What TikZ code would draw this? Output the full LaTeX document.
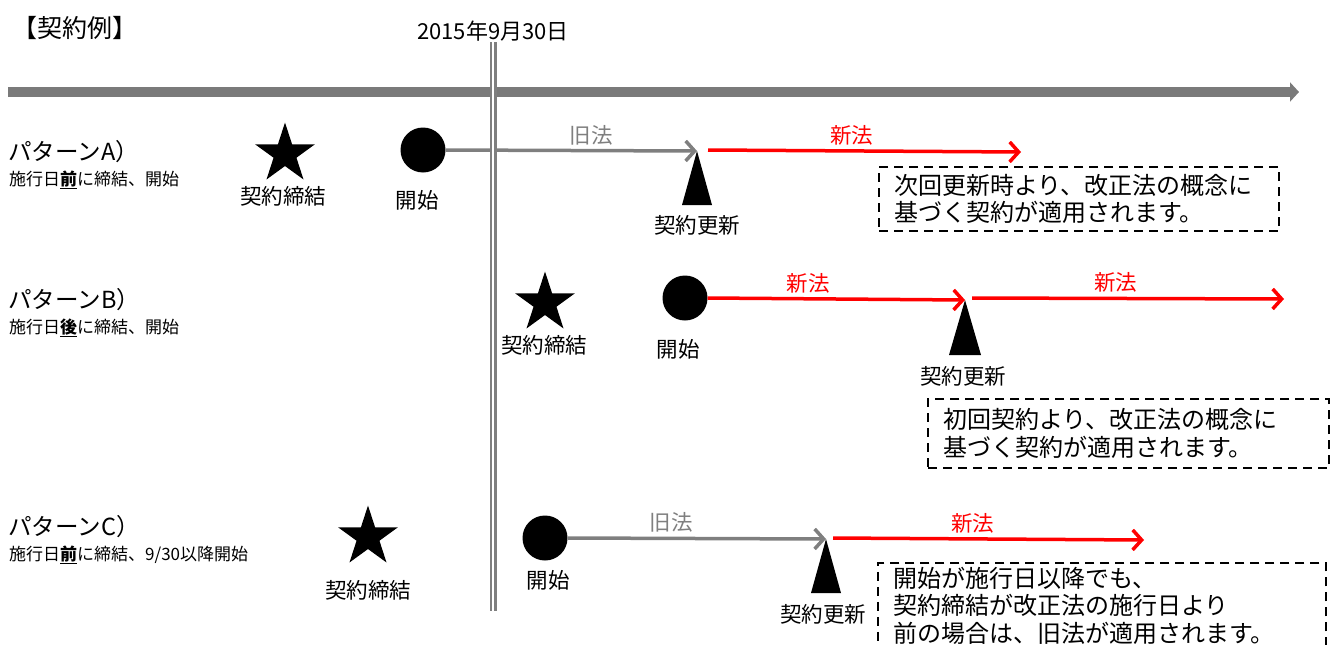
\documentclass[tikz,border=0pt]{standalone}
\usepackage{fontspec}
\setmainfont{Noto Sans CJK JP}
\usetikzlibrary{shapes.geometric,arrows.meta}
\definecolor{axisgray}{HTML}{7A7A7A}
\definecolor{oldgray}{HTML}{7F7F7F}
\definecolor{newred}{HTML}{FF0000}
\begin{document}
\begin{tikzpicture}[x=1pt,y=-1pt,
  ttl/.style={font=\fontsize{23.5}{27}\selectfont, inner sep=0, anchor=west},
  sub/.style={font=\fontsize{17}{20}\selectfont, inner sep=0, anchor=west},
  lbl/.style={font=\fontsize{21.5}{24}\selectfont, inner sep=0},
  lawlbl/.style={font=\fontsize{21.5}{24}\selectfont, inner sep=0},
  star5/.style={star, star points=5, star point ratio=2.618, minimum size=63pt, fill=black, inner sep=0},
  dot/.style={circle, fill=black, minimum size=45pt, inner sep=0},
  oldarr/.style={draw=oldgray, line width=3.5pt, -{Straight Barb[length=9pt, width=20pt, line width=3.5pt]}},
  newarr/.style={draw=newred, line width=3.5pt, -{Straight Barb[length=9pt, width=20pt, line width=3.5pt]}},
  notebox/.style={draw=black, dashed, line width=2.2pt, dash pattern=on 9pt off 6pt,
    font=\fontsize{24}{27.5}\selectfont, align=left, anchor=north west,
    inner xsep=15pt, inner ysep=0pt},
]
\useasboundingbox (0,0) rectangle (1336,645);

% title and date
\node[font=\fontsize{25}{28}\selectfont, inner sep=0, anchor=west] (title) at (12,28) {【契約例】};
\node[font=\fontsize{22}{24}\selectfont, inner sep=0] (date) at (493,31) {2015年9月30日};

% main axis
\coordinate (ax0) at (8,92);
\coordinate (ax1) at (1299,92);
\draw[axisgray, line width=10pt, -{Triangle[length=9pt, width=19pt]}] (ax0) -- (ax1);

% ---------- Pattern A ----------
\node[ttl] (pa) at (8,152) {パターンA）};
\node[sub] (pas) at (9,180) {施行日\underline{\textbf{前}}に締結、開始};
\node[star5] (sa) at (285,154) {};
\node[lbl] (sal) at (283,196) {契約締結};
\node[dot] (ca) at (423,150) {};
\node[lbl] (cal) at (417,200) {開始};
\coordinate (ta) at (697,151);
\fill (ta) -- ++(-15,54) -- ++(30,0) -- cycle;
\node[lbl] (tal) at (697,225) {契約更新};
\draw[oldarr] (ca.east) -- node[above=4pt, text=oldgray, lawlbl, pos=0.58] {旧法} (ta);
\coordinate (ra0) at (708,150);
\coordinate (ra1) at (1021,152);
\draw[newarr] (ra0) -- node[above=4pt, text=newred, lawlbl, pos=0.46] {新法} (ra1);
\node[notebox, minimum width=400pt, minimum height=64pt, text width=370pt] (na) at (878,166)
  {次回更新時より、改正法の概念に\\基づく契約が適用されます。};

% ---------- Pattern B ----------
\node[ttl] (pb) at (8,300) {パターンB）};
\node[sub] (pbs) at (9,328) {施行日\underline{\textbf{後}}に締結、開始};
\node[star5] (sb) at (545,303) {};
\node[lbl] (sbl) at (544,345) {契約締結};
\node[dot] (cb) at (685,298) {};
\node[lbl] (cbl) at (678,349) {開始};
\coordinate (tb) at (965,300);
\fill (tb) -- ++(-16,55) -- ++(32,0) -- cycle;
\node[lbl] (tbl) at (963,376) {契約更新};
\draw[newarr] (cb.east) -- node[above=4pt, text=newred, lawlbl, pos=0.39] {新法} (tb);
\coordinate (rb0) at (972,298);
\coordinate (rb1) at (1284,299);
\draw[newarr] (rb0) -- node[above=4pt, text=newred, lawlbl, pos=0.46] {新法} (rb1);
\node[notebox, minimum width=401pt, minimum height=69pt, text width=371pt] (nb) at (927,398)
  {初回契約より、改正法の概念に\\基づく契約が適用されます。};

% ---------- Pattern C ----------
\node[ttl] (pc) at (8,527) {パターンC）};
\node[sub] (pcs) at (9,555) {施行日\underline{\textbf{前}}に締結、9/30以降開始};
\node[star5] (sc) at (368,537) {};
\node[lbl] (scl) at (368,590) {契約締結};
\node[dot] (cc) at (545,538) {};
\node[lbl] (ccl) at (548,580) {開始};
\coordinate (tc) at (826,539);
\fill (tc) -- ++(-15,54) -- ++(30,0) -- cycle;
\node[lbl] (tcl) at (823,614) {契約更新};
\draw[oldarr] (cc.east) -- node[above=4pt, text=oldgray, lawlbl, pos=0.40] {旧法} (tc);
\coordinate (rc0) at (833,538);
\coordinate (rc1) at (1144,540);
\draw[newarr] (rc0) -- node[above=4pt, text=newred, lawlbl, pos=0.45] {新法} (rc1);
\node[notebox, text width=418pt, inner ysep=4pt, anchor=north west] (nc) at (877,562)
  {開始が施行日以降でも、\\契約締結が改正法の施行日より\\前の場合は、旧法が適用されます。\\[24pt]};

% ---------- date line (double) ----------
\coordinate (v0) at (493,42);
\coordinate (v1) at (493,611);
\draw[oldgray, line width=7pt] (v0) -- (v1);
\draw[white, line width=2.2pt] (v0) -- (v1);
\end{tikzpicture}
\end{document}
